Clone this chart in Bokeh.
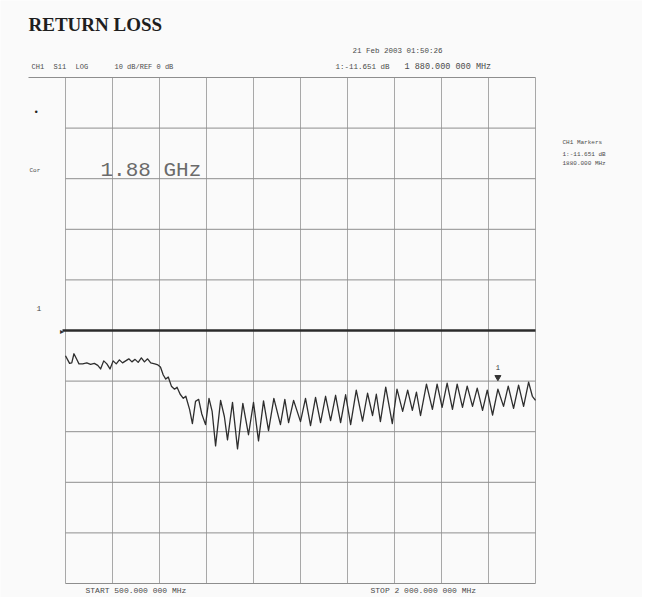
from bokeh.plotting import figure
from bokeh.models import Range1d, Label
from bokeh.embed import file_html
from bokeh.resources import INLINE

# ---------------- data ----------------
freq_ticks_mhz = [500, 650, 800, 950, 1100, 1250, 1400, 1550, 1700, 1850, 2000]
db_ticks = [-50, -40, -30, -20, -10, 0, 10, 20, 30, 40, 50]
ref_db = 0

freq_mhz = [500, 507, 513, 520, 527, 535, 543, 555, 568, 580, 592, 603, 612, 622, 632,
            642, 652, 662, 672, 682, 692, 702, 712, 722, 732, 742, 752, 762, 772, 785,
            795, 803, 812, 820, 828, 838, 848, 856, 866, 876, 884, 896, 905, 915, 925,
            935, 947, 958, 968, 979, 995, 1007, 1017, 1033, 1049, 1066, 1084, 1100, 1116,
            1132, 1148, 1165, 1186, 1200, 1212, 1228, 1250, 1266, 1282, 1298, 1314, 1330,
            1346, 1362, 1378, 1394, 1410, 1428, 1448, 1464, 1480, 1492, 1505, 1522, 1543,
            1558, 1576, 1592, 1607, 1620, 1633, 1652, 1671, 1686, 1702, 1718, 1735, 1750,
            1767, 1782, 1799, 1814, 1831, 1846, 1863, 1880, 1898, 1913, 1930, 1946, 1962,
            1978, 1990, 2000]
s11_db = [-5.0, -5.8, -6.5, -6.4, -4.6, -5.6, -6.6, -6.6, -6.4, -6.7, -6.5, -6.9, -7.6, -6.0, -6.6,
          -7.6, -6.0, -6.6, -5.8, -6.4, -6.0, -5.6, -6.2, -5.7, -6.3, -5.4, -6.2, -5.6, -6.4, -6.6,
          -6.8, -7.2, -8.8, -9.6, -9.2, -11.0, -11.6, -11.2, -12.6, -13.4, -13.0, -15.6, -18.4, -14.0, -13.6,
          -16.5, -18.6, -13.4, -16.0, -22.8, -13.8, -17.0, -21.6, -14.2, -23.4, -14.4, -20.6, -14.2, -21.8,
          -13.9, -19.8, -13.4, -18.6, -13.6, -18.2, -13.8, -18.0, -13.4, -18.8, -13.2, -18.2, -13.0,
          -17.8, -12.8, -18.2, -12.7, -18.6, -11.8, -17.9, -12.4, -16.8, -12.6, -18.0, -11.2, -18.4,
          -11.6, -16.0, -11.8, -15.8, -12.2, -16.8, -10.6, -15.6, -10.6, -15.2, -10.4, -15.6, -10.6,
          -15.2, -11.0, -15.0, -11.4, -15.8, -11.8, -16.7, -11.6, -15.0, -11.0, -15.4, -10.8, -15.0,
          -10.2, -13.0, -13.8]

marker_freq_mhz = 1880
marker_db = -11.651

# ---------------- layout helpers (picture pixel -> data) ----------------
PX_L, PX_R = 65, 535
PY_T, PY_B = 77, 583
F0, F1 = freq_ticks_mhz[0], freq_ticks_mhz[-1]
D0, D1 = db_ticks[0], db_ticks[-1]


def dx(xp):
    return F0 + (xp - PX_L) * (F1 - F0) / (PX_R - PX_L)


def dy(yp):
    return D1 - (yp - PY_T) * (D1 - D0) / (PY_B - PY_T)


W, H = 642, 597
BG = "#fafafa"
p = figure(width=W, height=H,
           x_range=Range1d(dx(0), dx(W)), y_range=Range1d(dy(H), dy(0)),
           output_backend="svg", toolbar_location=None,
           x_axis_location=None, y_axis_location=None,
           min_border=0, background_fill_color=BG, border_fill_color=BG,
           outline_line_color=None)
p.xgrid.visible = False
p.ygrid.visible = False

# grid
n = len(freq_ticks_mhz)
p.segment(x0=freq_ticks_mhz, y0=[D0] * n, x1=freq_ticks_mhz, y1=[D1] * n,
          line_color="#a8a8a8", line_width=1)
hticks = [t for t in db_ticks if t != ref_db]
hx0 = [dx(28) if t == D1 else F0 for t in hticks]
p.segment(x0=hx0, y0=hticks, x1=[F1] * len(hticks), y1=hticks,
          line_color="#8e8e8e", line_width=1)
# reference line
p.segment(x0=[dx(62)], y0=[ref_db], x1=[F1], y1=[ref_db], line_color="#2b2b2b", line_width=2.6)

# trace
p.line(freq_mhz, s11_db, line_color="#2e2e2e", line_width=1.3, line_join="round")

# marker
p.scatter([marker_freq_mhz], [marker_db + 2.4], marker="inverted_triangle", size=6,
          fill_color="#333333", line_color="#333333")

MONO = "Liberation Mono"


def lab(xp, yp, text, size, color="#4a4a4a", font=MONO, style="normal", align="left"):
    p.add_layout(Label(x=dx(xp), y=dy(yp), text=text, text_font=font, text_font_size=size,
                       text_font_style=style, text_color=color, text_baseline="middle",
                       text_align=align))


lab(28, 24, "RETURN LOSS", "19px", color="#1e1e1e", font="Liberation Serif", style="bold")
lab(352, 50, "21 Feb 2003  01:50:26", "7.5px")
lab(31, 66, "CH1", "7px")
lab(53, 66, "S11", "7px")
lab(75, 66, "LOG", "7px")
lab(114, 66, "10 dB/REF 0 dB", "7px")
lab(335, 66, "1:-11.651 dB", "7.5px")
lab(404, 66, "1 880.000 000 MHz", "8.5px")
lab(562, 142, "CH1 Markers", "6px")
lab(562, 154, "1:-11.651 dB", "6px")
lab(562, 163, "1880.000 MHz", "6px")
lab(33, 112, "\u2022", "9px", color="#222222")
lab(29, 170, "Cor", "6px")
lab(36, 308, "1", "8px")
lab(59, 331, "\u25b8", "8px", color="#333333")
lab(100, 170, "1.88 GHz", "21px", color="#6a6a6a")
p.add_layout(Label(x=marker_freq_mhz, y=marker_db + 4.4, text="1", text_font=MONO,
                   text_font_size="7px", text_color="#333333", text_align="center",
                   text_baseline="middle"))
lab(85, 590, "START 500.000 000 MHz", "8px")
lab(370, 590, "STOP 2 000.000 000 MHz", "8px")

open("out.html", "w").write(file_html(p, INLINE))
